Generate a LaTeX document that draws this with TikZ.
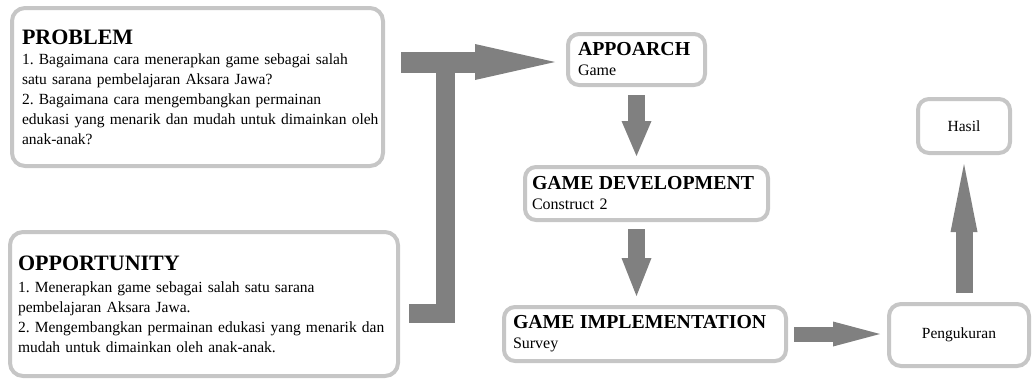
\documentclass[tikz,border=0pt]{standalone}
\usepackage{fontspec}
\setmainfont{Liberation Serif}
\usetikzlibrary{arrows.meta,calc,positioning}
\definecolor{boxgray}{RGB}{198,198,198}
\definecolor{arrgray}{RGB}{128,128,128}
\newcommand{\bigttl}[1]{\mbox{\fontsize{22}{24}\selectfont\bfseries #1}}
\newcommand{\ttl}[1]{\mbox{\fontsize{19.8}{22}\selectfont\bfseries #1}}
\frenchspacing
\hfuzz=200pt

\begin{document}
\begin{tikzpicture}[x=1pt,y=-1pt,
  box/.style={draw=boxgray,fill=white,line width=4pt,rounded corners=13pt,
    align=left,inner ysep=0pt,font=\fontsize{15.5}{20}\selectfont},
  sub/.style={font=\fontsize{16}{20}\selectfont},
  blk/.style={draw=arrgray,line cap=butt}]
  \useasboundingbox (0,0) rectangle (1033,381);
  % boxes
  \node[box,text width=351pt,inner xsep=10pt,minimum height=158pt] (prob) at (197.5,87)
    {\bigttl{PROBLEM}\\
     \mbox{1. Bagaimana cara menerapkan game sebagai salah}\\
     \mbox{satu sarana pembelajaran Aksara Jawa?}\\
     \mbox{2. Bagaimana cara mengembangkan permainan}\\
     \mbox{edukasi yang menarik dan mudah untuk dimainkan oleh}\\
     anak-anak?};
  \node[box,text width=372pt,inner xsep=8pt,minimum height=144pt] (opp) at (204,304)
    {\bigttl{OPPORTUNITY}\\[2pt]
     \mbox{1. Menerapkan game sebagai salah satu sarana}\\
     \mbox{pembelajaran Aksara Jawa.}\\
     \mbox{2. Mengembangkan permainan edukasi yang menarik dan}\\
     \mbox{mudah untuk dimainkan oleh anak-anak.}};
  \node[box,sub,text width=117pt,inner xsep=10pt,minimum height=51pt,rounded corners=11pt] (appr) at (636.5,59.5)
    {\ttl{APPOARCH}\\ Game};
  \node[box,sub,text width=229pt,inner xsep=7pt,minimum height=53pt,rounded corners=11pt] (gdev) at (646.5,193.5)
    {\ttl{GAME DEVELOPMENT}\\ Construct 2};
  \node[box,sub,text width=264pt,inner xsep=9pt,minimum height=54pt,rounded corners=11pt] (gimp) at (645,334)
    {\ttl{GAME IMPLEMENTATION}\\ Survey};
  \node[box,align=center,minimum width=140pt,minimum height=62pt,rounded corners=12pt] (peng) at (959,335) {Pengukuran};
  \node[box,align=center,minimum width=92pt,minimum height=54pt,rounded corners=11pt] (hasil) at (964,126) {Hasil};
  % block arrows
  \coordinate (t1) at (401,62);
  \coordinate (jn) at (445,62);
  \coordinate (o1) at (409,313);
  \draw[blk,line width=19pt] (o1) -| (jn);
  \draw[blk,line width=21pt,shorten >=11pt,-{Triangle[length=80pt,width=36pt,line width=0pt]}]
    (t1) -- (t1 -| appr.west);
  \draw[blk,line width=17pt,shorten <=8pt,shorten >=9pt,-{Triangle[length=35pt,width=30pt,line width=0pt]}]
    (appr.south) -- (appr.south |- gdev.north);
  \draw[blk,line width=17pt,shorten <=7pt,shorten >=9pt,-{Triangle[length=38pt,width=30pt,line width=0pt]}]
    (gdev.south -| appr.south) -- (gimp.north -| appr.south);
  \draw[blk,line width=15pt,shorten <=6pt,shorten >=7pt,-{Triangle[length=47pt,width=25pt,line width=0pt]}]
    (gimp.east) -- (gimp.east -| peng.west);
  \draw[blk,line width=17pt,shorten <=9pt,shorten >=9pt,-{Triangle[length=68pt,width=27pt,line width=0pt]}]
    (peng.north -| hasil.south) -- (hasil.south);
\end{tikzpicture}
\end{document}
